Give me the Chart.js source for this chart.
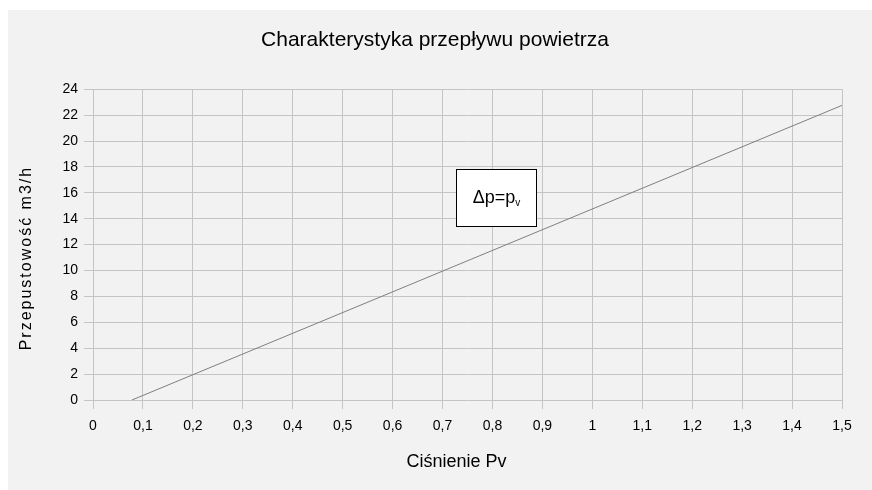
<!DOCTYPE html>
<html>
<head>
<meta charset="utf-8">
<script src="https://cdn.jsdelivr.net/npm/chart.js@4/dist/chart.umd.min.js"></script>
<style>
  html, body { margin: 0; padding: 0; background: #fff; }
  #wrap { position: absolute; left: 8px; top: 10px; width: 864px; height: 480px; background: #f2f2f2; }
</style>
</head>
<body>
<div id="wrap"><canvas id="chart" width="864" height="480"></canvas></div>
<script>
// dane
const pressure = [0.078, 1.5];
const flow = [0, 22.75];
const xTickValues = [0, 0.1, 0.2, 0.3, 0.4, 0.5, 0.6, 0.7, 0.8, 0.9, 1, 1.1, 1.2, 1.3, 1.4, 1.5];
const yTickValues = [0, 2, 4, 6, 8, 10, 12, 14, 16, 18, 20, 22, 24];
const boxLabel = "Δp=p";
const boxLabelSub = "v";
// ramka z opisem (wspolrzedne w jednostkach osi)
const boxX = [0.726, 0.888];
const boxY = [13.4, 17.85];

const FONT = "'Liberation Sans', Arial, sans-serif";
const gridColor = "#c4c4c4";

// przesuniecie tytulu osi (jak w oryginale) + odstep liter
function shiftTitle(dx, dy, spacing) {
  return function (scale) {
    if (scale._shifted) return;
    scale._shifted = true;
    const orig = scale.drawTitle;
    scale.drawTitle = function () {
      const ctx = this.ctx;
      ctx.save();
      ctx.translate(dx, dy);
      if (spacing) ctx.letterSpacing = spacing;
      orig.call(this);
      ctx.restore();
    };
  };
}

// ramka z etykieta
const boxPlugin = {
  id: "boxLabel",
  afterDatasetsDraw(chart) {
    const { ctx, scales: { x, y } } = chart;
    const x1 = Math.round(x.getPixelForValue(boxX[0])) + 0.5;
    const x2 = Math.round(x.getPixelForValue(boxX[1])) + 0.5;
    const y1 = Math.round(y.getPixelForValue(boxY[1])) + 0.5;
    const y2 = Math.round(y.getPixelForValue(boxY[0])) + 0.5;
    ctx.save();
    ctx.fillStyle = "#fff";
    ctx.strokeStyle = "#000";
    ctx.lineWidth = 1;
    ctx.fillRect(x1, y1, x2 - x1, y2 - y1);
    ctx.strokeRect(x1, y1, x2 - x1, y2 - y1);
    ctx.fillStyle = "#000";
    ctx.font = "18px " + FONT;
    ctx.textBaseline = "middle";
    const w1 = ctx.measureText(boxLabel).width;
    ctx.font = "10px " + FONT;
    const w2 = ctx.measureText(boxLabelSub).width;
    const cx = (x1 + x2) / 2, cy = (y1 + y2) / 2;
    const tx = cx - (w1 + w2) / 2;
    ctx.font = "18px " + FONT;
    ctx.textAlign = "left";
    ctx.fillText(boxLabel, tx, cy);
    ctx.font = "10px " + FONT;
    ctx.fillText(boxLabelSub, tx + w1, cy + 5);
    ctx.restore();
  }
};

new Chart(document.getElementById("chart"), {
  type: "scatter",
  data: {
    datasets: [{
      data: pressure.map((p, i) => ({ x: p, y: flow[i] })),
      showLine: true,
      borderColor: "#7f7f7f",
      borderWidth: 1,
      pointRadius: 0,
      pointHoverRadius: 0
    }]
  },
  options: {
    responsive: false,
    animation: false,
    layout: { padding: { left: 20, right: 30, top: 0, bottom: 0 } },
    plugins: {
      legend: { display: false },
      tooltip: { enabled: false },
      title: {
        display: true,
        text: "Charakterystyka przepływu powietrza",
        color: "#000",
        font: { family: FONT, size: 21, weight: "normal" },
        padding: { top: 18, bottom: 36 }
      }
    },
    scales: {
      x: {
        type: "linear",
        min: 0,
        max: 1.5,
        afterBuildTicks(scale) { scale.ticks = xTickValues.map(v => ({ value: v })); },
        afterFit(scale) { scale.height = 90; },
        afterUpdate: shiftTitle(-11, 0, null),
        ticks: {
          color: "#000",
          font: { family: FONT, size: 14 },
          padding: 9,
          maxRotation: 0,
          callback: v => String(Math.round(v * 10) / 10).replace(".", ",")
        },
        grid: { color: gridColor, tickLength: 9, drawTicks: true },
        border: { display: false },
        title: {
          display: true,
          text: "Ciśnienie Pv",
          color: "#000",
          font: { family: FONT, size: 18 },
          padding: { top: 0, bottom: 17 }
        }
      },
      y: {
        min: 0,
        max: 24,
        afterBuildTicks(scale) { scale.ticks = yTickValues.map(v => ({ value: v })); },
        afterFit(scale) { scale.width = 65; },
        afterUpdate: shiftTitle(-10.6, 13.5, "2px"),
        ticks: {
          color: "#000",
          font: { family: FONT, size: 14 },
          padding: 6
        },
        grid: { color: gridColor, tickLength: 9, drawTicks: true },
        border: { display: false },
        title: {
          display: true,
          text: "Przepustowość m3/h",
          color: "#000",
          font: { family: FONT, size: 16 },
          padding: { top: 0, bottom: 0 }
        }
      }
    }
  },
  plugins: [boxPlugin]
});
</script>
</body>
</html>
